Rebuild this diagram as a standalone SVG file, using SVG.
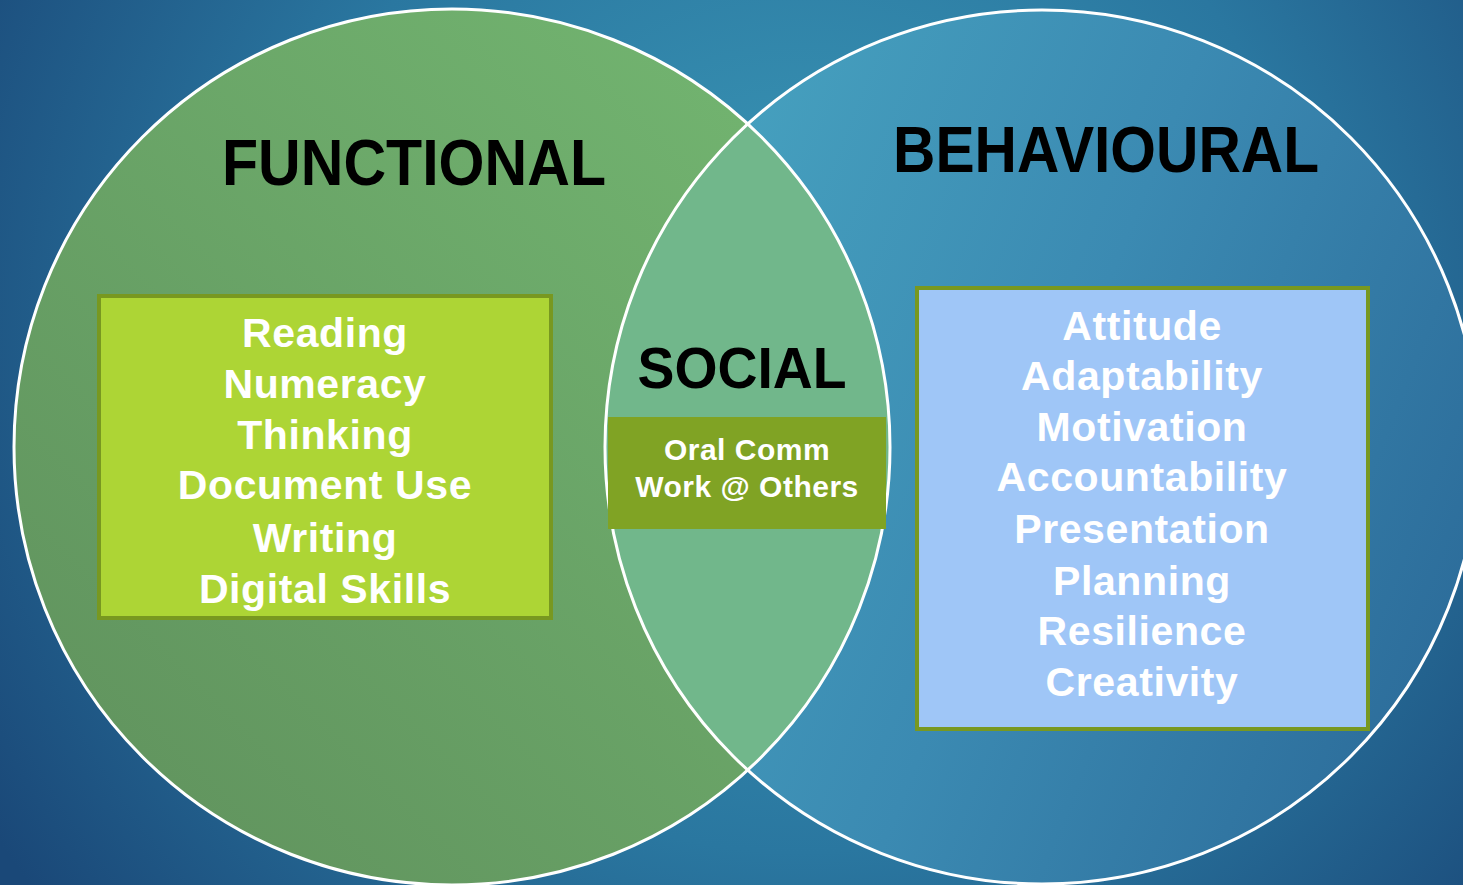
<svg xmlns="http://www.w3.org/2000/svg" width="1463" height="885" viewBox="0 0 1463 885">
<defs>
<radialGradient id="bg" cx="800" cy="330" r="950" gradientUnits="userSpaceOnUse">
<stop offset="0" stop-color="#3c9ab8"/>
<stop offset="0.55" stop-color="#2a77a0"/>
<stop offset="1" stop-color="#1a4878"/>
</radialGradient>
<linearGradient id="gL" x1="0" y1="1" x2="1" y2="0">
<stop offset="0" stop-color="#5f905c"/>
<stop offset="1" stop-color="#74b872"/>
</linearGradient>
<linearGradient id="gR" x1="0" y1="0.3" x2="1" y2="0.7">
<stop offset="0" stop-color="#47a3c0"/>
<stop offset="0.5" stop-color="#3b8ab2"/>
<stop offset="1" stop-color="#2c6c9a"/>
</linearGradient>
<clipPath id="clipR"><circle cx="1042" cy="447" r="437"/></clipPath>
<style>
.ring{fill:none;stroke:#ffffff;stroke-width:3}
.title{font-family:"Liberation Sans",Arial,sans-serif;font-weight:bold;fill:#000000;text-anchor:middle}
.item{font-family:"Liberation Sans",Arial,sans-serif;font-weight:bold;fill:#ffffff;text-anchor:middle;font-size:41px;letter-spacing:0.6px}
.small{font-family:"Liberation Sans",Arial,sans-serif;font-weight:bold;fill:#ffffff;text-anchor:middle;font-size:30px;letter-spacing:0.5px}
.box{stroke:#789820;stroke-width:4}
</style>
</defs>
<rect x="0" y="0" width="1463" height="885" fill="url(#bg)"/>
<g id="circle-behavioural">
<circle cx="1042" cy="447" r="437" fill="url(#gR)"/>
</g>
<g id="circle-functional">
<circle cx="452" cy="447" r="438" fill="url(#gL)"/>
</g>
<g id="intersection">
<circle cx="452" cy="447" r="438" fill="#71b78b" clip-path="url(#clipR)"/>
</g>
<g id="rings">
<circle class="ring" cx="1042" cy="447" r="437"/>
<circle class="ring" cx="452" cy="447" r="438"/>
</g>
<g id="title-functional">
<text class="title" x="414" y="185" font-size="64" textLength="384" lengthAdjust="spacingAndGlyphs">FUNCTIONAL</text>
</g>
<g id="title-behavioural">
<text class="title" x="1106" y="172" font-size="64" textLength="426" lengthAdjust="spacingAndGlyphs">BEHAVIOURAL</text>
</g>
<g id="title-social">
<text class="title" x="742" y="388" font-size="57" textLength="209" lengthAdjust="spacingAndGlyphs">SOCIAL</text>
</g>
<g id="box-functional">
<rect class="box" x="99" y="296" width="452" height="322" fill="#add535"/>
<text class="item" x="325" y="347">Reading</text>
<text class="item" x="325" y="398">Numeracy</text>
<text class="item" x="325" y="449">Thinking</text>
<text class="item" x="325" y="499">Document Use</text>
<text class="item" x="325" y="552">Writing</text>
<text class="item" x="325" y="603">Digital Skills</text>
</g>
<g id="box-social">
<rect x="608" y="417" width="278" height="112" fill="#80a324"/>
<text class="small" x="747" y="460">Oral Comm</text>
<text class="small" x="747" y="497">Work @ Others</text>
</g>
<g id="box-behavioural">
<rect class="box" x="917" y="288" width="451" height="441" fill="#9fc6f7"/>
<text class="item" x="1142" y="340">Attitude</text>
<text class="item" x="1142" y="390">Adaptability</text>
<text class="item" x="1142" y="441">Motivation</text>
<text class="item" x="1142" y="491">Accountability</text>
<text class="item" x="1142" y="543">Presentation</text>
<text class="item" x="1142" y="595">Planning</text>
<text class="item" x="1142" y="645">Resilience</text>
<text class="item" x="1142" y="696">Creativity</text>
</g>
</svg>
